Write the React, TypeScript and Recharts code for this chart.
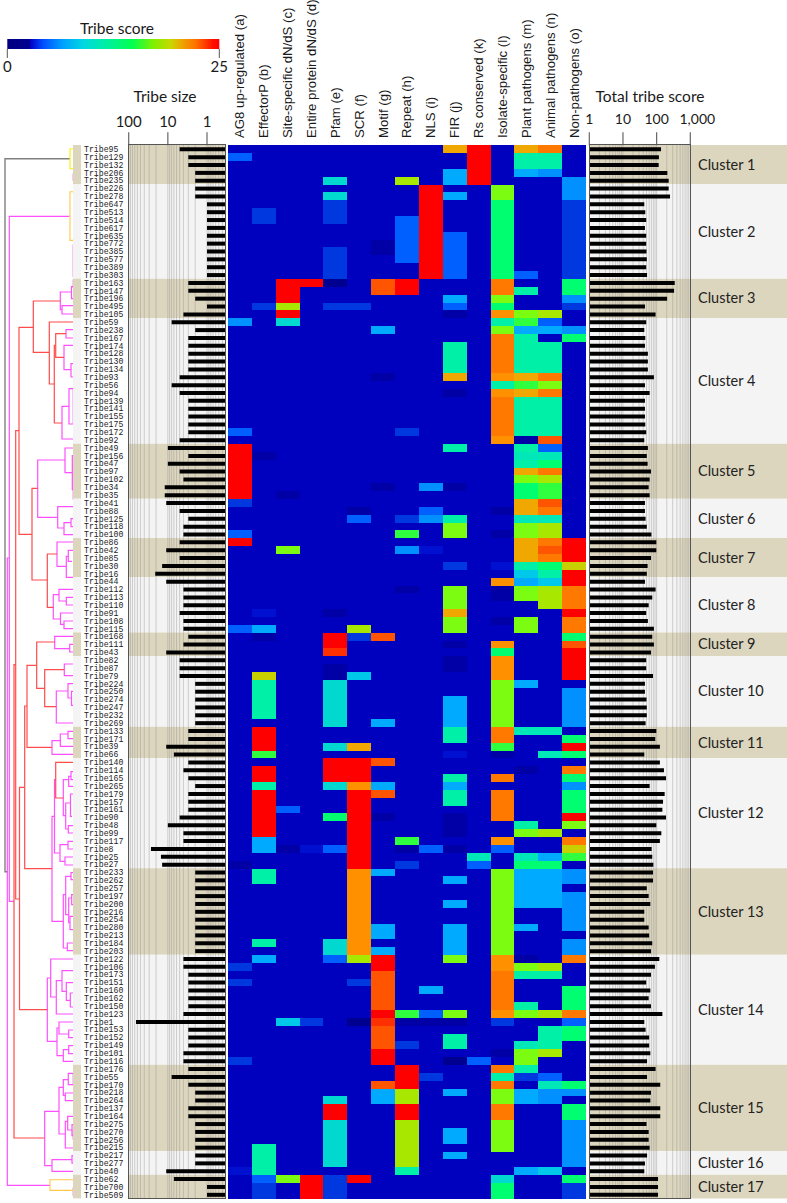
import {
  Bar,
  BarChart,
  Cell,
  ReferenceArea,
  ReferenceLine,
  Scatter,
  ScatterChart,
  XAxis,
  YAxis,
} from "recharts";

const tribes = [
  95, 129, 132, 206, 235, 226, 278, 647, 513, 514, 617, 635, 772, 385, 577, 389, 303, 163, 147, 196, 495, 105,
  59, 238, 167, 174, 128, 130, 134, 93, 56, 94, 139, 141, 155, 175, 172, 92, 49, 156, 47, 97, 102, 34, 35,
  41, 88, 125, 118, 100, 86, 42, 85, 30, 16, 44, 112, 113, 110, 91, 108, 115, 168, 111, 43,
  82, 87, 79, 224, 250, 274, 247, 232, 269, 133, 171, 39, 66, 140, 114, 165, 265, 179, 157, 161, 90, 48, 99, 117, 8, 25, 27,
  233, 262, 257, 197, 200, 216, 254, 280, 213, 184, 203, 122, 106, 173, 151, 160, 162, 150, 123, 1, 153, 152, 149, 101, 116,
  176, 55, 170, 218, 264, 137, 164, 275, 270, 256, 215, 217, 277, 40, 62, 700, 509,
];

const tribeSize = [
  5, 3, 3, 2, 2, 2, 2, 1, 1, 1, 1, 1, 1, 1, 1, 1, 1, 3, 3, 2, 1, 4,
  8, 2, 3, 3, 3, 3, 3, 5, 8, 5, 3, 3, 3, 3, 3, 5, 10, 3, 10, 5, 4, 12, 12,
  11, 5, 3, 4, 4, 5, 11, 5, 14, 21, 11, 4, 4, 4, 5, 4, 4, 3, 4, 11,
  5, 5, 5, 2, 2, 2, 2, 2, 2, 3, 3, 11, 7, 3, 4, 3, 2, 3, 3, 3, 5, 10, 4, 4, 27, 15, 14,
  2, 2, 2, 2, 2, 2, 2, 2, 2, 2, 2, 4, 4, 3, 3, 3, 3, 3, 4, 65, 3, 3, 3, 4, 4,
  3, 8, 3, 2, 2, 3, 3, 2, 2, 2, 2, 2, 2, 11, 7, 1, 1,
];

const totalScore = [
  135, 117, 115, 208, 228, 228, 250, 43, 46, 49, 45, 49, 49, 50, 51, 49, 52, 345, 330, 205, 45, 93,
  49, 43, 46, 45, 55, 55, 55, 83, 45, 62, 45, 45, 45, 46, 49, 43, 55, 51, 54, 68, 62, 58, 62,
  45, 45, 47, 51, 70, 98, 98, 68, 54, 51, 45, 93, 74, 58, 49, 55, 83, 74, 83, 68,
  49, 49, 78, 45, 45, 50, 51, 51, 47, 98, 91, 125, 43, 125, 165, 190, 62, 173, 155, 148, 190, 98, 138, 125, 71, 74, 80,
  78, 78, 51, 58, 65, 43, 43, 58, 60, 74, 68, 120, 89, 68, 49, 65, 58, 68, 148, 43, 47, 60, 60, 65, 52,
  93, 52, 128, 68, 65, 128, 128, 50, 58, 58, 62, 52, 45, 43, 110, 110, 110,
];

const clusterNames = [
  "Cluster 1", "Cluster 2", "Cluster 3", "Cluster 4", "Cluster 5", "Cluster 6", "Cluster 7", "Cluster 8", "Cluster 9",
  "Cluster 10", "Cluster 11", "Cluster 12", "Cluster 13", "Cluster 14", "Cluster 15", "Cluster 16", "Cluster 17",
];
const clusterRows = [5, 12, 5, 16, 7, 5, 5, 7, 3, 9, 4, 14, 11, 14, 11, 3, 3];

const columnNames = [
  "AG8 up-regulated (a)", "EffectorP (b)", "Site-specific dN/dS (c)", "Entire protein dN/dS (d)", "Pfam (e)", "SCR (f)",
  "Motif (g)", "Repeat (h)", "NLS (i)", "FIR (j)", "Rs conserved (k)", "Isolate-specific (l)", "Plant pathogens (m)",
  "Animal pathogens (n)", "Non-pathogens (o)",
];

// score colours, index = score
const palette = [
  "#000090", "#0000A6", "#0000BF", "#0010D0", "#0038E0", "#0060FF", "#0090FF", "#00AAFF", "#00C8E8", "#00D8D0",
  "#00E8B8", "#00F0A8", "#00FF70", "#30FF40", "#7CFC10", "#A8E800", "#C8D000", "#F0A800", "#FF9000", "#FF7800",
  "#FF5500", "#FF3000", "#FF1000", "#FF0800", "#FF0400", "#FF0000",
];

// [first row, last row, score]; every other cell of a column has the base score
type Run = [number, number, number];
const baseScore = 2;

const scoreA: Run[] = [[1,1,5],[22,22,6],[36,36,5],[38,44,25],[45,45,4],[49,49,5],[50,50,25],[61,61,5],[91,91,1],[104,104,4],[106,106,4],[116,116,4],[130,130,3]];
const scoreB: Run[] = [[8,9,4],[20,20,4],[39,39,1],[59,59,3],[61,61,7],[62,62,1],[67,67,16],[68,72,11],[74,76,25],[77,77,13],[79,80,25],[81,81,11],[82,87,25],[88,89,7],[92,93,11],[101,101,11],[103,103,7],[127,130,11],[131,131,5],[132,133,4]];
const scoreC: Run[] = [[17,19,25],[20,20,15],[21,21,25],[22,22,9],[44,44,1],[51,51,14],[84,84,5],[89,89,1],[111,111,8],[131,131,14]];
const scoreD: Run[] = [[17,17,25],[89,89,3],[111,111,4],[131,133,25]];
const scoreE: Run[] = [[4,4,9],[6,6,9],[7,9,4],[13,16,4],[17,17,0],[20,20,4],[59,59,1],[62,63,25],[64,64,21],[66,67,1],[68,73,9],[76,76,9],[78,80,25],[81,81,9],[85,85,12],[89,89,5],[101,102,9],[103,103,5],[121,121,9],[122,123,25],[124,129,9],[131,133,4]];
const scoreF: Run[] = [[20,20,4],[46,46,1],[47,47,5],[61,61,15],[62,62,4],[67,67,8],[76,76,17],[78,80,25],[81,81,18],[82,91,25],[92,102,18],[103,103,15],[106,106,4],[111,111,0],[131,131,25]];
const scoreG: Run[] = [[12,13,1],[17,18,20],[23,23,7],[29,29,1],[43,43,1],[62,62,20],[73,73,7],[78,78,20],[81,81,7],[82,82,20],[85,85,1],[92,92,7],[99,100,7],[102,102,7],[103,104,25],[105,109,20],[110,110,25],[111,111,21],[112,114,20],[115,116,25],[119,119,20],[120,121,7]];
const scoreH: Run[] = [[4,4,15],[9,14,5],[17,18,25],[36,36,4],[47,47,4],[49,49,13],[51,51,6],[56,56,1],[88,88,13],[89,89,1],[91,91,4],[110,110,13],[111,111,1],[114,114,4],[117,119,25],[120,121,15],[122,123,25],[124,129,15],[130,130,11]];
const scoreI: Run[] = [[5,16,25],[43,43,6],[46,46,5],[47,47,6],[51,51,3],[89,89,5],[107,107,7],[110,110,5],[111,111,1],[118,118,4]];
const scoreJ: Run[] = [[0,0,17],[3,4,7],[6,6,7],[11,16,5],[19,19,7],[20,20,5],[21,21,1],[25,28,11],[29,29,17],[31,31,1],[38,38,11],[43,43,1],[47,47,11],[48,49,14],[53,53,4],[56,58,14],[59,59,17],[60,61,14],[63,63,1],[65,66,1],[70,73,7],[74,75,11],[77,77,3],[80,80,11],[81,81,7],[82,83,11],[85,87,1],[89,89,1],[93,93,7],[96,96,7],[99,102,7],[103,103,14],[110,110,14],[111,111,1],[113,114,11],[116,116,0],[120,120,7],[125,126,7],[128,128,7]];
const scoreK: Run[] = [[0,4,25],[90,90,10],[91,91,5],[116,116,5]];
const scoreL: Run[] = [[5,6,14],[7,16,12],[17,18,19],[19,19,14],[20,20,12],[21,21,18],[22,22,11],[23,23,14],[24,28,19],[29,29,18],[30,30,11],[31,31,18],[32,36,19],[37,37,18],[46,46,1],[49,49,1],[53,53,3],[55,55,18],[56,57,1],[60,60,1],[63,63,18],[64,64,12],[65,67,18],[68,73,14],[74,75,19],[76,76,13],[77,77,1],[80,80,19],[82,85,19],[88,88,18],[89,89,5],[92,102,14],[103,104,18],[105,109,19],[110,110,18],[111,111,4],[115,115,1],[117,117,19],[118,118,11],[119,119,19],[120,121,14],[122,123,19],[124,127,14],[131,131,9],[132,133,12]];
const scoreM: Run[] = [[0,0,17],[1,2,11],[3,3,7],[16,16,5],[18,18,11],[21,21,14],[22,22,13],[23,23,7],[24,28,11],[29,29,17],[30,30,13],[31,31,17],[32,36,11],[37,37,1],[38,38,11],[39,39,10],[40,40,11],[41,41,17],[42,42,14],[43,44,12],[45,46,17],[47,47,10],[48,49,14],[50,52,17],[53,53,11],[54,54,8],[55,55,7],[56,57,14],[60,61,14],[68,68,7],[74,74,10],[79,79,1],[86,86,11],[87,87,14],[90,90,10],[91,91,12],[92,96,7],[99,99,7],[103,103,1],[104,104,14],[105,105,11],[109,109,11],[110,110,14],[114,114,10],[115,116,14],[117,117,11],[118,118,4],[120,121,7],[130,130,7]];
const scoreN: Run[] = [[0,0,19],[1,2,11],[3,3,6],[21,21,15],[22,22,5],[23,23,7],[25,28,11],[29,29,19],[30,30,14],[31,31,19],[32,36,11],[37,37,20],[38,38,5],[39,39,10],[40,40,12],[41,41,19],[42,42,15],[43,44,13],[45,45,20],[46,46,19],[47,47,10],[48,49,15],[50,50,19],[51,51,20],[52,52,19],[53,53,12],[54,54,11],[55,55,8],[56,58,15],[74,74,10],[77,77,10],[87,87,15],[90,90,7],[91,91,12],[92,96,7],[104,104,15],[105,105,11],[110,110,15],[112,114,11],[115,115,15],[118,118,5],[119,119,10],[120,121,6],[130,130,8]];
const scoreO: Run[] = [[4,6,6],[7,16,4],[17,18,12],[19,19,6],[20,20,4],[23,23,6],[24,24,12],[50,52,25],[53,53,16],[54,55,25],[56,58,19],[59,59,25],[60,61,19],[62,62,12],[63,63,20],[64,67,25],[69,73,6],[75,75,12],[76,76,25],[77,77,12],[79,79,19],[80,80,12],[81,81,6],[82,84,12],[85,85,25],[86,86,14],[88,88,19],[89,89,16],[90,90,13],[92,93,6],[95,99,6],[101,102,6],[103,103,19],[107,109,12],[110,110,19],[111,111,5],[112,113,12],[119,119,12],[120,120,6],[122,123,12],[124,129,6],[131,131,12],[132,133,4]];

const scoreRuns = [scoreA, scoreB, scoreC, scoreD, scoreE, scoreF, scoreG, scoreH, scoreI, scoreJ, scoreK, scoreL, scoreM, scoreN, scoreO];

// dendrogram brackets: [height, top leaf pos, top branch end, bottom leaf pos, bottom branch end]
type Link = [number, number, number, number, number];

const grayLinks: Link[] = [[5, 159, 70, 872, 7.3]];
const yellowLinks: Link[] = [[70, 149.3, 73, 169, 73]];
const orangeLinks: Link[] = [[70, 192, 73, 240.7, 73], [50, 1180, 73, 1190.7, 73]];
const faintLinks: Link[] = [
  [72.6, 174, 73, 181, 73], [72.6, 245, 73, 277, 73], [72.6, 280, 73, 288, 73], [72.6, 389, 73, 424, 73],
  [72.6, 460, 73, 500, 73], [72.6, 1074, 73, 1085, 73], [72.6, 1130, 73, 1140, 73], [72.6, 1188, 73, 1196, 73],
];
const redLinks: Link[] = [
  [14, 665, 16, 1138.3, 44.7], [15.7, 431, 19, 899.3, 19.5], [19, 327.7, 33.3, 534.7, 32], [33.3, 301.3, 60.3, 352.7, 49.3],
  [49.3, 322.3, 73, 384.3, 54.3], [54.3, 345.7, 55.7, 423.3, 62], [55.7, 334, 66, 357.7, 64], [32, 488.7, 37.7, 580.3, 47.3],
  [47.3, 554.3, 57, 607.7, 53.3], [19.5, 787.7, 24.7, 1010, 47.3], [24.7, 706.3, 27, 869, 52], [27, 665.7, 36.7, 747.7, 52],
  [36.7, 642.3, 54.7, 688.7, 44.7], [44.7, 670, 64.3, 707, 56.3], [55.7, 762.7, 73, 798.3, 63.3],
];
const magentaLinks: Link[] = [
  [9.3, 216.7, 69.5, 901.7, 14], [7.3, 558.3, 9.3, 1185.7, 50], [60.3, 292.3, 71.5, 310, 62], [62, 306, 73, 314.3, 73],
  [71.5, 287, 73, 299, 73], [66, 330, 73, 338.3, 73], [64, 345.7, 73, 370, 71], [71, 364, 73, 377.3, 73],
  [62, 406.7, 69, 439.3, 73], [69, 389, 73, 424.3, 73], [37.7, 460.3, 65, 517.7, 57.7], [65, 448.3, 73, 473, 72.3],
  [72.3, 456, 73, 490, 73], [57.7, 507, 73, 528.3, 64], [64, 523, 71, 535, 73], [71, 519, 73, 527, 73],
  [57, 542.3, 73, 566.7, 66.3], [66.3, 556.7, 68.3, 577.7, 73], [68.3, 550.7, 73, 561.7, 72], [53.3, 595, 59, 619.3, 60.5],
  [59, 589.7, 73, 601.3, 66.3], [66.3, 597.7, 73, 605.3, 73], [60.5, 613.3, 73, 624.7, 64], [64, 621.3, 73, 629, 73],
  [54.7, 636.7, 73, 649, 69.7], [69.7, 644.7, 73, 652.3, 73], [64.3, 664.3, 73, 676, 73], [56.3, 691.3, 68, 723.3, 73],
  [68, 684, 73, 698.3, 71.5], [71.5, 691.7, 73, 705.7, 73], [52, 741, 60.3, 754.7, 73], [60.3, 734.3, 68, 746.7, 73],
  [68, 731.7, 73, 739, 73], [52, 816.7, 54.5, 921.7, 63.3], [54.5, 780, 55.7, 853.3, 60], [63.3, 780, 68.7, 816, 65.7],
  [68.7, 776.7, 71, 786.7, 73], [71, 772, 73, 780, 73], [65.7, 803.3, 70.5, 829.3, 68.3], [70.5, 794.3, 73, 816.7, 72],
  [68.3, 826, 73, 833.3, 73], [60, 845, 68, 861.7, 65], [68, 841.7, 73, 849.3, 73], [65, 857.3, 73, 865.3, 73],
  [63.3, 895, 65.7, 948.3, 67.3], [65.7, 876.7, 71, 915, 68.7], [71, 873, 73, 880, 73], [68.7, 898.3, 71.7, 923, 70],
  [71.7, 895, 73, 905, 73], [70, 916.7, 73, 930, 73], [67.3, 943.3, 73, 951, 73], [47.3, 978.3, 50.7, 1041.7, 57],
  [50.7, 959.3, 73, 997.3, 56.3], [56.3, 981, 62, 1014.3, 73], [62, 971, 73, 991.7, 66.3], [66.3, 983, 73, 1000.7, 70.3],
  [70.3, 993.3, 73, 1007.3, 73], [57, 1028.3, 59, 1056, 63.3], [59, 1022.3, 73, 1034.3, 68.7], [68.7, 1030.3, 73, 1038, 73],
  [63.3, 1050, 68.7, 1061.7, 73], [68.7, 1046, 73, 1054, 73], [44.7, 1111.7, 59, 1166, 52], [59, 1087.7, 63.3, 1134.3, 65.3],
  [63.3, 1080, 68.3, 1095.7, 65.3], [68.3, 1073.7, 73, 1085, 73], [65.3, 1093.3, 73, 1101, 73], [65.3, 1121.7, 67.7, 1148.3, 73],
  [67.7, 1116.7, 73, 1130.3, 72], [72, 1125, 73, 1136, 73], [52, 1160, 72, 1171.7, 73], [72, 1156, 73, 1163.5, 73],
];

const sizeMinorTicks = [
  100, 90, 80, 70, 60, 50, 40, 30, 20, 10, 9, 8, 7, 6, 5, 4, 3, 2, 1, 0.9, 0.8, 0.7, 0.6, 0.5, 0.4,
];
const scoreMinorTicks = [
  2, 3, 4, 5, 6, 7, 8, 9, 10, 20, 30, 40, 50, 60, 70, 80, 90, 100, 200, 300, 400, 500, 600, 700, 800, 900,
];

const legendStops: [string, string][] = [
  ["0%", "#000080"], ["10.6%", "#000090"], ["10.8%", "#0000C8"], ["17%", "#0050FF"], ["26%", "#00A0FF"], ["36%", "#00D8E0"],
  ["47%", "#00F0A0"], ["59%", "#00FF50"], ["69%", "#80F000"], ["77%", "#C8D800"], ["83%", "#F0A000"], ["89%", "#FF7000"],
  ["97%", "#FF1000"], ["100%", "#FF0000"],
];
const legendData = [{ name: "score", value: 25 }];

const heatRows = tribes.map((t) => {
  const row: Record<string, number | string> = { tribe: `Tribe${t}` };
  columnNames.forEach((_, c) => (row[`c${c}`] = 1));
  return row;
});
const sizeRows = tribes.map((t, i) => ({ tribe: `Tribe${t}`, size: tribeSize[i] }));
const totalRows = tribes.map((t, i) => ({ tribe: `Tribe${t}`, total: totalScore[i] }));

function expand(runs: Run[]) {
  const out = tribes.map(() => baseScore);
  runs.forEach(([from, to, score]) => {
    for (let r = from; r <= to; r++) out[r] = score;
  });
  return out;
}

function bracket([h, top, topEnd, bottom, bottomEnd]: Link) {
  return [
    { x: topEnd, y: top },
    { x: h, y: top },
    { x: h, y: bottom },
    { x: bottomEnd, y: bottom },
  ];
}

const PLOT_TOP = 145.3;
const PLOT_H = 1053.4;
const UI_FONT = "Lato, 'Open Sans', sans-serif";
const BEIGE = "#DDD6BE";
const PALE = "#F4F4F4";

const abs = (left: number, top: number): React.CSSProperties => ({ position: "absolute", left, top });

function Title({ x, y, text }: { x: number; y: number; text: string }) {
  return (
    <div
      style={{
        ...abs(x - 100, y),
        width: 200,
        textAlign: "center",
        fontFamily: UI_FONT,
        fontSize: 15.5,
        lineHeight: "20px",
        color: "#1a1a1a",
      }}
    >
      {text}
    </div>
  );
}

function Bands() {
  let start = 0;
  const spans = clusterRows.map((n) => {
    const s = [start, start + n];
    start += n;
    return s;
  });
  return (
    <ScatterChart width={787} height={PLOT_H} margin={{ top: 0, right: 0, bottom: 0, left: 0 }}>
      <XAxis type="number" dataKey="x" domain={[0, 787]} hide />
      <YAxis type="number" dataKey="y" domain={[0, 134]} reversed hide />
      <Scatter
        data={[
          { x: 0, y: 0 },
          { x: 787, y: 134 },
        ]}
        shape={() => <g />}
        isAnimationActive={false}
      />
      {spans.flatMap(([a, b], i) => {
        const fill = i % 2 === 0 ? BEIGE : PALE;
        return [
          <ReferenceArea key={`l${i}`} x1={73} x2={81} y1={a} y2={b} fill={fill} fillOpacity={1} stroke="none" />,
          <ReferenceArea key={`m${i}`} x1={129} x2={226} y1={a} y2={b} fill={fill} fillOpacity={1} stroke="none" />,
          <ReferenceArea
            key={`r${i}`}
            x1={590}
            x2={787}
            y1={a}
            y2={b}
            fill={fill}
            fillOpacity={1}
            stroke="none"
            label={{
              value: clusterNames[i],
              position: "insideLeft",
              offset: 108,
              fontSize: 14.5,
              fontFamily: UI_FONT,
              fill: "#222",
            }}
          />,
        ];
      })}
    </ScatterChart>
  );
}

function Dendrogram() {
  const groups: [Link[], string, number][] = [
    [faintLinks, "#F6C4F6", 1],
    [magentaLinks, "#FF50FF", 1.2],
    [redLinks, "#FF4C4C", 1.2],
    [grayLinks, "#808080", 1.4],
    [yellowLinks, "#F8F000", 1.1],
    [orangeLinks, "#FFC84A", 1.1],
  ];
  return (
    <ScatterChart width={74} height={PLOT_H} margin={{ top: 0, right: 0, bottom: 0, left: 0 }}>
      <XAxis type="number" dataKey="x" domain={[0, 74]} hide />
      <YAxis type="number" dataKey="y" domain={[PLOT_TOP, PLOT_TOP + PLOT_H]} reversed hide />
      {groups.flatMap(([links, color, w], g) =>
        links.map((l, i) => (
          <Scatter
            key={`${g}-${i}`}
            data={bracket(l)}
            line={{ stroke: color, strokeWidth: w }}
            shape={() => <g />}
            isAnimationActive={false}
          />
        )),
      )}
    </ScatterChart>
  );
}

function TribeTick({ y, payload }: any) {
  return (
    <text x={1} y={y} dy={2.8} fontFamily="'Liberation Mono', monospace" fontSize={8.2} fill="#1c1c1c">
      {payload.value}
    </text>
  );
}

// minor log gridlines live in their own chart so they stay behind the bars
function SizeGrid() {
  return (
    <BarChart
      layout="vertical"
      width={145}
      height={PLOT_H}
      data={sizeRows}
      margin={{ top: 0, right: 2, bottom: 0, left: 45.7 }}
    >
      <XAxis type="number" scale="log" domain={[0.327, 100]} reversed hide />
      <YAxis type="category" dataKey="tribe" hide />
      <Bar dataKey="size" fill="none" isAnimationActive={false} />
      {sizeMinorTicks.map((v) => (
        <ReferenceLine key={v} x={v} stroke="#8a8a8a" strokeOpacity={0.38} />
      ))}
    </BarChart>
  );
}

function ScoreGrid() {
  return (
    <BarChart
      layout="vertical"
      width={150}
      height={PLOT_H}
      data={totalRows}
      margin={{ top: 0, right: 29.7, bottom: 0, left: 19.3 }}
    >
      <XAxis type="number" scale="log" domain={[1, 1000]} hide />
      <YAxis type="category" dataKey="tribe" hide />
      <Bar dataKey="total" fill="none" isAnimationActive={false} />
      {scoreMinorTicks.map((v) => (
        <ReferenceLine key={v} x={v} stroke="#8a8a8a" strokeOpacity={0.38} />
      ))}
    </BarChart>
  );
}

function SizeBars() {
  return (
    <BarChart
      layout="vertical"
      width={145}
      height={PLOT_TOP + PLOT_H - 100}
      data={sizeRows}
      barCategoryGap={0}
      margin={{ top: 0, right: 2, bottom: 0, left: 0 }}
    >
      <XAxis
        type="number"
        scale="log"
        domain={[0.327, 100]}
        reversed
        orientation="top"
        height={45.3}
        ticks={[1, 10, 100]}
        interval={0}
        tickSize={13}
        tickMargin={5}
        axisLine={false}
        tickLine={{ stroke: "#666", strokeWidth: 1.2 }}
        tick={{ fontSize: 15, fontFamily: UI_FONT, fill: "#1a1a1a" }}
      />
      <YAxis
        type="category"
        dataKey="tribe"
        width={45.7}
        interval={0}
        axisLine={false}
        tickLine={false}
        tick={(p: any) => <TribeTick {...p} />}
      />
      <Bar dataKey="size" fill="#000" barSize={4} isAnimationActive={false} />
    </BarChart>
  );
}

function ScoreTick({ x, y, payload }: any) {
  const dx = payload.value === 1000 ? 7 : 0;
  return (
    <text x={x + dx} y={y - 6} textAnchor="middle" fontSize={14} fontFamily={UI_FONT} fill="#1a1a1a">
      {payload.value.toLocaleString("en-US")}
    </text>
  );
}

function TotalBars() {
  return (
    <BarChart
      layout="vertical"
      width={150}
      height={PLOT_TOP + PLOT_H - 100}
      data={totalRows}
      barCategoryGap={0}
      margin={{ top: 0, right: 29.7, bottom: 0, left: 19.3 }}
    >
      <XAxis
        type="number"
        scale="log"
        domain={[1, 1000]}
        orientation="top"
        height={45.3}
        ticks={[1, 10, 100, 1000]}
        interval={0}
        tickSize={13}
        axisLine={false}
        tickLine={{ stroke: "#666", strokeWidth: 1.2 }}
        tick={(p: any) => <ScoreTick {...p} />}
      />
      <YAxis type="category" dataKey="tribe" hide />
      <Bar dataKey="total" fill="#000" barSize={4} isAnimationActive={false} />
    </BarChart>
  );
}

function ColumnTick({ x, payload }: any) {
  return (
    <text
      transform={`rotate(-90 ${x} 138)`}
      x={x}
      y={138}
      dy={4.5}
      fontSize={13.2}
      fontFamily="'Liberation Sans', Arial, sans-serif"
      fill="#1a1a1a"
    >
      {columnNames[Math.floor(payload.value)]}
    </text>
  );
}

function Heatmap() {
  const scores = scoreRuns.map(expand);
  return (
    <BarChart
      layout="vertical"
      width={358}
      height={PLOT_TOP + PLOT_H}
      data={heatRows}
      barCategoryGap={0}
      barGap={0}
      margin={{ top: 0, right: 0, bottom: 0, left: 0 }}
    >
      <XAxis
        type="number"
        domain={[0, 15]}
        orientation="top"
        height={PLOT_TOP}
        ticks={columnNames.map((_, i) => i + 0.5)}
        interval={0}
        axisLine={false}
        tickLine={false}
        tick={(p: any) => <ColumnTick {...p} />}
      />
      <YAxis type="category" dataKey="tribe" hide />
      {columnNames.map((_, c) => (
        <Bar key={c} dataKey={`c${c}`} stackId="heat" isAnimationActive={false} shapeRendering="crispEdges">
          {heatRows.map((_, r) => (
            <Cell key={r} fill={palette[scores[c][r]]} />
          ))}
        </Bar>
      ))}
    </BarChart>
  );
}

function ScoreLegend() {
  return (
    <BarChart
      layout="vertical"
      width={250}
      height={50}
      data={legendData}
      barCategoryGap={0}
      margin={{ top: 0, right: 30.7, bottom: 0, left: 7.3 }}
    >
      <defs>
        <linearGradient id="tribeScale" x1="0" y1="0" x2="1" y2="0">
          {legendStops.map(([offset, color]) => (
            <stop key={offset} offset={offset} stopColor={color} />
          ))}
        </linearGradient>
      </defs>
      <XAxis
        type="number"
        domain={[0, 25]}
        ticks={[0, 25]}
        interval={0}
        height={40}
        tickSize={9}
        tickMargin={3}
        axisLine={false}
        tickLine={{ stroke: "#555" }}
        tick={{ fontSize: 15, fontFamily: UI_FONT, fill: "#1a1a1a" }}
      />
      <YAxis type="category" dataKey="name" hide />
      <Bar dataKey="value" fill="url(#tribeScale)" isAnimationActive={false} />
    </BarChart>
  );
}

export default function App() {
  return (
    <div style={{ ...abs(0, 0), width: 787, height: 1203, background: "#fff", overflow: "hidden" }}>
      <div style={abs(0, PLOT_TOP)}>
        <Bands />
      </div>
      <div style={abs(0, PLOT_TOP)}>
        <Dendrogram />
      </div>
      <div style={abs(83, PLOT_TOP)}>
        <SizeGrid />
      </div>
      <div style={abs(570, PLOT_TOP)}>
        <ScoreGrid />
      </div>
      <div style={{ ...abs(228, PLOT_TOP), width: 358, height: PLOT_H, background: palette[baseScore] }} />
      <div style={abs(83, 100)}>
        <SizeBars />
      </div>
      <div style={abs(570, 100)}>
        <TotalBars />
      </div>
      <div style={abs(228, 0)}>
        <Heatmap />
      </div>
      <div
        style={{
          ...abs(128, PLOT_TOP - 1),
          width: 98,
          height: PLOT_H + 1,
          border: "1.3px solid #555",
          boxSizing: "border-box",
        }}
      />
      <div
        style={{
          ...abs(589, PLOT_TOP - 1),
          width: 102,
          height: PLOT_H + 1,
          border: "1.3px solid #555",
          boxSizing: "border-box",
        }}
      />
      <div style={abs(0, 38.5)}>
        <ScoreLegend />
      </div>
      <Title x={117} y={18} text="Tribe score" />
      <Title x={165} y={86} text="Tribe size" />
      <Title x={650} y={86} text="Total tribe score" />
    </div>
  );
}
